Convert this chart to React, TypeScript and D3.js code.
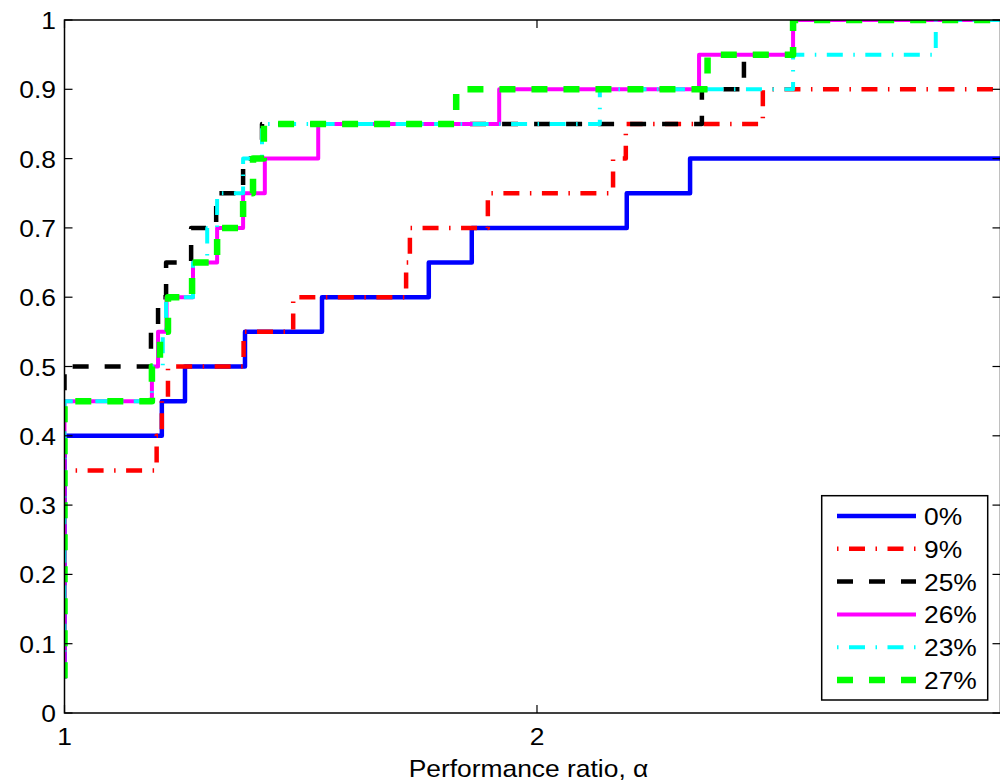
import React from 'react';
import * as d3 from 'd3';

// Performance profile: sorted performance ratios per solver (20 problems)
const nProblems = 20;
const seriesLabels = ['0%', '9%', '25%', '26%', '23%', '27%'];

const ratios0 = [1, 1, 1, 1, 1, 1, 1, 1, 1.206, 1.255, 1.382, 1.545, 1.771, 1.862, 2.19, 2.324];
const ratios9 = [1, 1, 1, 1, 1, 1, 1, 1.195, 1.206, 1.219, 1.379, 1.484, 1.723, 1.731, 1.896, 2.161, 2.188, 2.478];
const ratios25 = [1, 1, 1, 1, 1, 1, 1, 1, 1, 1, 1.183, 1.198, 1.215, 1.268, 1.321, 1.378, 1.418, 2.349, 2.438, 2.542];
const ratios26 = [1, 1, 1, 1, 1, 1, 1, 1, 1, 1.185, 1.198, 1.216, 1.272, 1.323, 1.378, 1.424, 1.537, 1.92, 2.343, 2.542];
const ratios23 = [1, 1, 1, 1, 1, 1, 1, 1, 1, 1.185, 1.208, 1.215, 1.272, 1.302, 1.323, 1.378, 1.418, 2.133, 2.542, 2.844];
const ratios27 = [1, 1, 1, 1, 1, 1, 1, 1, 1, 1.185, 1.202, 1.219, 1.27, 1.323, 1.378, 1.399, 1.422, 1.829, 2.361, 2.542];

const allRatios = [ratios0, ratios9, ratios25, ratios26, ratios23, ratios27];

const yTickValues = [0, 0.1, 0.2, 0.3, 0.4, 0.5, 0.6, 0.7, 0.8, 0.9, 1];
const yTickLabels = ['0', '0.1', '0.2', '0.3', '0.4', '0.5', '0.6', '0.7', '0.8', '0.9', '1'];
const xTickValues = [1, 2];
const xTickLabels = ['1', '2'];
const alphaMax = 2.981;

// Line styles (MATLAB-like)
const styles = [
  { color: '#0000ff', width: 4.5, dash: 'none', legendOffset: 0 },
  { color: '#ff0000', width: 4.5, dash: '16,10.5,1.5,10.5', legendOffset: 26.5 },
  { color: '#000000', width: 4.5, dash: '16,16', legendOffset: 0 },
  { color: '#ff00ff', width: 4, dash: 'none', legendOffset: 0 },
  { color: '#00ffff', width: 4, dash: '16,10.5,1.5,10.5', legendOffset: 26.5 },
  { color: '#00ff00', width: 6.5, dash: '16,16', legendOffset: 0 },
];

const plot = { left: 64.5, right: 1000.5, top: 20, bottom: 713 };
const font = "'Liberation Sans', Arial, Helvetica, sans-serif";
const tickLen = 8;
const textStretch = 1.1; // figure text is a bit wider than plain Arial

const x = d3.scaleLinear().domain([1, alphaMax]).range([plot.left, plot.right]);
const y = d3.scaleLinear().domain([0, 1]).range([plot.bottom, plot.top]);

const line = d3.line<[number, number]>()
  .x((d) => x(d[0]))
  .y((d) => y(d[1]))
  .curve(d3.curveStepAfter);

const stairPoints = (ratios: number[]): [number, number][] => {
  const pts: [number, number][] = ratios.map((r, i) => [r, (i + 1) / nProblems]);
  pts.push([alphaMax, ratios.length / nProblems]);
  return pts;
};

const legend = { x: 821.7, y: 495.7, w: 166, h: 204.3, row0: 516, rowStep: 32.8 };

type LabelProps = { x: number; y: number; anchor?: 'start' | 'middle' | 'end'; children: React.ReactNode };

// Text stretched horizontally around its anchor point
const Label: React.FC<LabelProps> = ({ x: tx, y: ty, anchor = 'start', children }) => (
  <text
    transform={`translate(${tx},${ty}) scale(${textStretch},1)`}
    fontSize={24}
    textAnchor={anchor}
    fill="#000"
  >
    {children}
  </text>
);

const App: React.FC = () => (
  <svg
    width={1000}
    height={784}
    style={{ position: 'absolute', left: 0, top: 0, background: '#fff' }}
    fontFamily={font}
  >
    <defs>
      <clipPath id="plotClip">
        <rect x={plot.left} y={plot.top} width={plot.right - plot.left} height={plot.bottom - plot.top} />
      </clipPath>
    </defs>

    {/* curves */}
    <g clipPath="url(#plotClip)">
      {allRatios.map((ratios, i) => (
        <path
          key={seriesLabels[i]}
          d={line(stairPoints(ratios)) ?? ''}
          fill="none"
          stroke={styles[i].color}
          strokeWidth={styles[i].width}
          strokeDasharray={styles[i].dash}
          strokeLinejoin="round"
        />
      ))}
    </g>

    {/* frame */}
    <rect
      x={plot.left}
      y={plot.top}
      width={plot.right - plot.left}
      height={plot.bottom - plot.top}
      fill="none"
      stroke="#000"
      strokeWidth={1.5}
    />

    {/* y ticks */}
    {yTickValues.map((v, i) => (
      <g key={`y${v}`}>
        <line x1={plot.left} x2={plot.left + tickLen} y1={y(v)} y2={y(v)} stroke="#000" strokeWidth={1.2} />
        <line x1={plot.right} x2={plot.right - tickLen} y1={y(v)} y2={y(v)} stroke="#000" strokeWidth={1.2} />
        <Label x={56} y={y(v) + 9} anchor="end">{yTickLabels[i]}</Label>
      </g>
    ))}

    {/* x ticks */}
    {xTickValues.map((v, i) => (
      <g key={`x${v}`}>
        <line x1={x(v)} x2={x(v)} y1={plot.bottom} y2={plot.bottom - tickLen} stroke="#000" strokeWidth={1.2} />
        <line x1={x(v)} x2={x(v)} y1={plot.top} y2={plot.top + tickLen} stroke="#000" strokeWidth={1.2} />
        <Label x={x(v)} y={745} anchor="middle">{xTickLabels[i]}</Label>
      </g>
    ))}

    <Label x={528.5} y={777} anchor="middle">Performance ratio, α</Label>

    {/* legend */}
    <rect x={legend.x} y={legend.y} width={legend.w} height={legend.h} fill="#fff" stroke="#000" strokeWidth={1.5} />
    {seriesLabels.map((label, i) => {
      const ry = legend.row0 + i * legend.rowStep;
      return (
        <g key={`leg${label}`}>
          <line
            x1={837}
            x2={916}
            y1={ry}
            y2={ry}
            stroke={styles[i].color}
            strokeWidth={styles[i].width}
            strokeDasharray={styles[i].dash}
            strokeDashoffset={styles[i].legendOffset}
          />
          <Label x={924} y={ry + 9}>{label}</Label>
        </g>
      );
    })}
  </svg>
);

export default App;
